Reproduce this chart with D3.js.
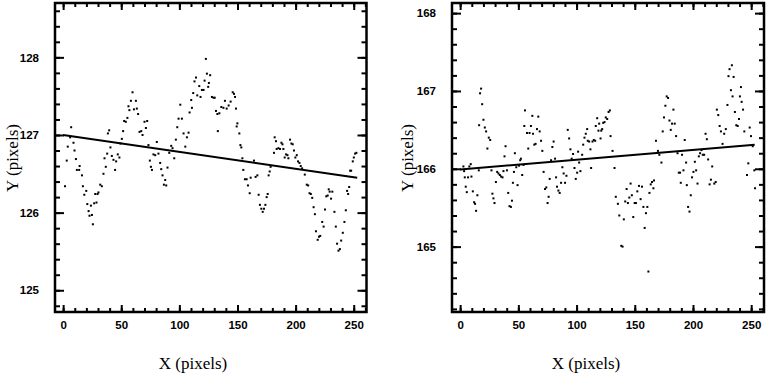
<!DOCTYPE html>
<html>
<head>
<meta charset="utf-8">
<script src="https://cdn.jsdelivr.net/npm/d3@7"></script>
<style>
  body { margin: 0; background: #fff; }
  .tick text { font-family: "Liberation Sans", Arial, sans-serif; font-weight: bold; font-size: 11.5px; fill: #000; }
  .title { font-family: "Liberation Serif", "Times New Roman", serif; font-size: 17px; fill: #000; }
</style>
</head>
<body>
<div id="chart"></div>
<script>
// left panel: measured Y position vs X
const leftX = [1.6,3.1,4.0,6.0,6.9,8.9,9.8,11.0,11.8,13.8,14.2,16.2,17.0,18.2,19.9,20.8,21.9,22.7,23.9,24.8,25.6,26.7,27.6,28.7,29.6,30.4,31.9,33.3,34.7,35.6,36.7,37.9,38.5,39.6,40.7,41.9,43.3,44.7,45.6,47.0,48.4,49.3,50.5,51.6,52.5,53.9,55.3,56.2,57.0,58.3,59.7,60.9,62.6,63.4,64.5,65.7,67.2,68.3,70.0,71.2,72.3,73.4,74.6,75.5,76.4,77.7,79.2,80.6,82.0,83.5,84.4,85.5,86.7,87.8,88.7,89.8,91.3,93.0,94.1,95.6,97.0,98.2,99.3,100.8,102.2,103.6,105.1,106.5,107.9,108.8,110.2,110.8,111.9,113.0,114.3,115.4,117.1,118.2,119.4,120.8,121.7,122.8,123.7,124.8,125.4,126.5,128.0,129.4,130.4,131.5,132.7,133.1,134.4,136.1,137.9,139.2,140.7,142.4,144.1,145.9,147.0,147.9,148.7,149.3,149.9,151.6,152.5,153.3,154.2,155.0,156.4,157.9,159.0,160.5,161.3,164.2,165.6,167.1,168.2,169.3,170.5,171.7,172.8,174.0,175.1,176.0,176.8,177.7,178.5,181.4,182.0,183.1,183.7,185.2,186.6,187.8,188.7,189.5,190.6,191.8,193.0,193.8,195.2,196.4,197.5,198.6,199.8,201.0,202.1,203.3,204.4,205.6,207.9,209.6,210.8,212.0,213.1,214.3,215.5,216.6,217.5,219.0,220.1,221.2,222.9,224.1,225.3,226.4,227.6,228.5,229.3,230.5,231.6,233.4,234.6,235.7,236.9,238.1,239.2,240.6,242.0,243.2,244.3,245.2,246.1,246.9,247.8,249.2,250.1,251.2,252.3];
const leftY = [126.34,126.67,126.85,126.97,127.10,126.90,126.80,126.69,126.55,126.55,126.60,126.48,126.34,126.23,126.28,126.11,126.02,125.96,126.09,125.97,125.85,126.12,126.24,126.13,126.24,126.26,126.36,126.34,126.50,126.70,126.59,126.76,127.02,127.06,126.84,126.73,126.68,126.55,126.66,126.75,126.71,126.89,126.95,127.05,127.18,127.17,127.22,127.37,127.32,127.44,127.55,127.33,127.44,127.34,127.27,127.04,127.05,127.00,127.17,127.09,127.18,126.87,126.67,126.59,126.55,126.75,126.74,126.91,126.76,126.64,126.56,126.48,126.36,126.42,126.35,126.58,126.77,126.86,126.83,126.70,126.94,127.10,127.21,127.39,127.21,127.02,126.85,126.97,127.03,127.29,127.45,127.35,127.54,127.69,127.74,127.51,127.63,127.49,127.58,127.58,127.70,127.98,127.79,127.62,127.67,127.77,127.49,127.48,127.48,127.31,127.27,127.05,127.28,127.36,127.35,127.44,127.34,127.38,127.43,127.55,127.53,127.49,127.34,127.11,127.15,127.02,126.87,126.84,126.70,126.55,126.43,126.43,126.35,126.25,126.45,126.67,126.46,126.48,126.23,126.10,126.05,126.01,126.05,126.10,126.20,126.24,126.48,126.53,126.59,126.77,126.97,126.92,126.82,126.83,126.82,126.90,126.88,126.82,126.71,126.75,126.74,126.70,126.94,126.89,126.88,126.80,126.71,126.74,126.66,126.64,126.60,126.57,126.49,126.36,126.35,126.25,126.24,126.19,126.07,125.98,125.76,125.65,125.69,125.70,125.88,125.82,126.04,126.21,126.22,126.30,126.27,126.18,126.27,126.01,125.82,125.60,125.51,125.53,125.64,125.74,125.88,126.03,126.28,126.24,126.33,126.54,126.54,126.66,126.71,126.76,126.77];

// right panel
const rightX = [2.8,3.4,4.0,4.8,5.7,6.8,7.9,9.1,9.7,10.9,12.0,12.8,13.7,14.8,16.0,16.3,17.1,18.0,18.9,20.0,21.2,22.3,23.4,24.6,25.8,26.9,27.7,28.6,29.5,30.7,31.8,32.9,34.1,35.2,36.4,37.2,38.1,39.0,40.2,41.3,42.4,43.6,44.5,45.3,46.2,47.0,48.2,49.3,50.5,51.6,52.2,53.3,54.5,55.1,55.7,57.4,58.5,59.6,60.8,62.0,62.6,63.7,64.8,66.0,67.1,68.3,69.5,70.6,71.7,72.9,74.0,75.1,76.0,76.9,78.1,79.2,80.3,81.5,82.4,83.2,84.4,85.5,86.7,87.8,88.9,90.1,91.3,92.4,93.6,94.7,95.8,97.0,98.2,99.3,100.5,101.3,102.2,103.3,104.8,105.7,106.8,107.9,109.1,109.6,110.8,111.9,112.5,113.7,114.8,116.0,116.5,117.7,118.8,119.4,120.6,121.2,122.0,122.9,124.0,125.1,126.3,127.5,128.6,129.2,130.9,132.6,133.7,135.5,136.7,138.4,139.5,140.6,141.8,143.0,144.1,145.3,146.4,147.5,148.7,149.9,151.0,152.2,153.6,155.0,156.2,157.4,158.5,159.6,160.8,161.7,162.6,163.7,164.8,166.0,166.5,168.2,169.9,171.1,172.9,174.0,175.1,176.3,177.4,178.6,179.8,180.9,182.0,183.2,184.3,185.5,186.7,187.8,188.9,189.5,190.6,191.8,192.9,194.1,194.7,195.8,197.0,198.1,199.2,200.4,201.6,202.7,203.9,205.0,206.1,207.3,208.4,209.6,210.8,211.9,213.0,214.3,215.4,216.5,218.3,219.5,220.5,221.7,222.9,224.0,225.4,226.8,228.2,229.6,230.5,231.4,232.6,233.4,234.0,234.9,236.0,237.2,238.4,239.5,240.3,241.2,241.8,243.0,244.1,246.4,247.5,248.7,249.8,251.3,252.7,253.3];
const rightY = [166.03,165.97,165.89,165.77,165.70,165.89,166.03,166.06,165.90,165.71,165.57,165.55,165.46,165.66,165.98,166.56,166.97,167.03,166.83,166.63,166.53,166.48,166.26,166.40,166.37,165.98,165.68,165.62,165.56,165.83,165.96,165.94,165.92,165.90,165.89,165.97,166.16,166.29,165.98,165.69,165.52,165.51,165.59,165.82,165.96,166.20,166.02,165.79,166.04,166.11,166.13,165.92,166.05,166.55,166.75,166.46,166.26,166.46,166.55,166.68,166.45,166.31,166.32,166.51,166.67,166.48,166.36,166.23,165.96,165.74,165.76,165.56,165.64,165.87,166.11,166.28,166.35,166.13,165.89,165.77,165.72,165.69,165.82,166.02,165.94,165.82,165.91,166.50,166.39,166.25,166.13,166.19,166.01,165.87,165.95,166.22,166.08,165.97,166.18,166.31,166.40,166.45,166.51,166.36,166.35,166.25,166.01,166.35,166.37,166.36,166.55,166.65,166.49,166.58,166.39,166.49,166.51,166.59,166.60,166.66,166.64,166.73,166.75,166.42,166.23,166.01,165.64,165.55,165.40,165.01,165.00,165.35,165.58,165.74,165.56,165.63,165.81,165.66,165.38,165.56,165.56,165.71,165.78,165.61,165.77,165.51,165.24,165.43,165.51,164.68,165.69,165.80,165.83,165.75,165.85,166.36,166.23,166.18,166.08,166.48,166.66,166.81,166.93,166.91,166.62,166.50,166.58,166.76,166.58,166.42,166.20,165.95,165.95,165.82,166.18,165.98,166.37,166.08,165.79,165.51,165.45,165.66,165.89,165.96,166.09,165.98,165.81,166.16,166.20,166.24,166.18,166.18,166.45,166.38,166.12,165.80,165.86,166.03,165.81,165.83,166.76,166.69,166.55,166.48,166.32,166.45,166.51,166.82,167.19,167.28,167.01,167.33,166.93,167.18,166.73,166.56,166.55,166.64,166.93,167.05,166.86,166.76,166.48,165.92,166.07,166.53,166.42,166.29,165.98,165.75];

// linear fits (start / end)
const fitX = [0, 253];
const leftFit = [127.0, 126.45];
const rightFit = [165.99, 166.31];

const xTicks = [0, 50, 100, 150, 200, 250];
const leftTicks = [125, 126, 127, 128];
const rightTicks = [165, 166, 167, 168];

const width = 767, height = 379;
const plotTop = 3, plotBottom = 312;

const svg = d3.select("#chart").append("svg")
  .attr("width", width)
  .attr("height", height);

const drawPanel = (left, right, yDomain, yTicks, xs, ys, fit, titleX, ylabX) => {
  const x = d3.scaleLinear().domain([-7, 261]).range([left, right]);
  const y = d3.scaleLinear().domain(yDomain).range([plotBottom, plotTop]);
  const g = svg.append("g");

  const xMinor = d3.range(0, 261, 10);
  const yMinor = d3.range(Math.ceil(yDomain[0] * 5), Math.floor(yDomain[1] * 5) + 1).map(v => v / 5);

  const ax = (gen, tr, vals, size, fmt, pad) => {
    const a = g.append("g").attr("transform", tr)
      .call(gen.tickValues(vals).tickSize(size).tickPadding(pad).tickFormat(fmt));
    a.select(".domain").remove();
    a.selectAll("line").attr("stroke", "#000").attr("stroke-width", 2);
    return a;
  };
  // minor ticks, all four sides
  ax(d3.axisBottom(x), `translate(0,${plotBottom})`, xMinor, -4, "", 0);
  ax(d3.axisTop(x), `translate(0,${plotTop})`, xMinor, -4, "", 0);
  ax(d3.axisLeft(y), `translate(${left},0)`, yMinor, -5, "", 0);
  ax(d3.axisRight(y), `translate(${right},0)`, yMinor, -5, "", 0);
  // major ticks
  ax(d3.axisBottom(x), `translate(0,${plotBottom})`, xTicks, -7, d3.format("d"), 9);
  ax(d3.axisTop(x), `translate(0,${plotTop})`, xTicks, -7, "", 0);
  ax(d3.axisLeft(y), `translate(${left},0)`, yTicks, -9, d3.format("d"), 16);
  ax(d3.axisRight(y), `translate(${right},0)`, yTicks, -9, "", 0);

  // frame
  g.append("rect")
    .attr("x", left).attr("y", plotTop)
    .attr("width", right - left).attr("height", plotBottom - plotTop)
    .attr("fill", "none").attr("stroke", "#000").attr("stroke-width", 2.5);

  // points
  g.append("g").selectAll("rect")
    .data(xs.map((d, i) => [d, ys[i]]))
    .join("rect")
    .attr("x", d => x(d[0]) - 1)
    .attr("y", d => y(d[1]) - 1)
    .attr("width", 2).attr("height", 2)
    .attr("fill", "#000");

  // fit line
  g.append("path")
    .datum(fitX.map((d, i) => [d, fit[i]]))
    .attr("d", d3.line().x(d => x(d[0])).y(d => y(d[1])))
    .attr("stroke", "#000").attr("stroke-width", 2).attr("fill", "none");

  // titles
  g.append("text").attr("class", "title")
    .attr("x", titleX).attr("y", 369)
    .attr("text-anchor", "middle")
    .text("X (pixels)");
  g.append("text").attr("class", "title")
    .attr("transform", `translate(${ylabX},158) rotate(-90)`)
    .attr("text-anchor", "middle")
    .text("Y (pixels)");
};

drawPanel(55, 366.5, [124.72, 128.70], leftTicks, leftX, leftY, leftFit, 193, 18);
drawPanel(452, 764, [164.16, 168.13], rightTicks, rightX, rightY, rightFit, 586, 413);
</script>
</body>
</html>
